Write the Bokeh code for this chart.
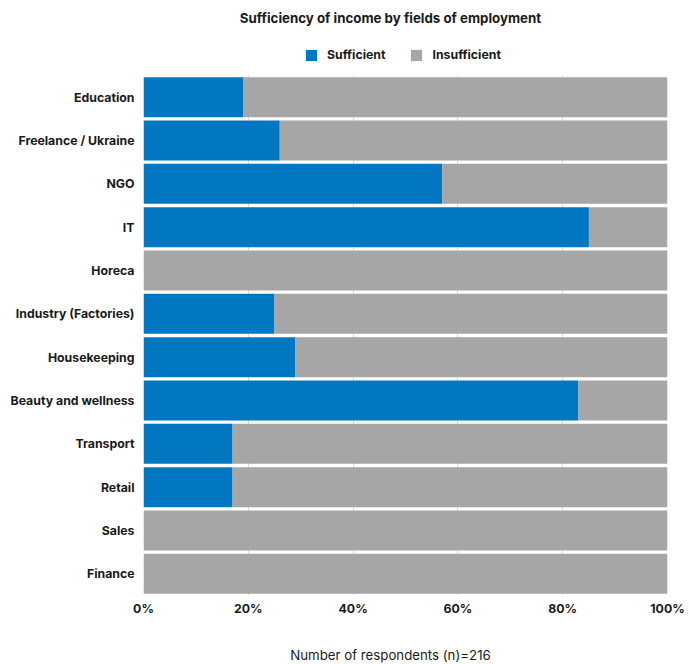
from bokeh.plotting import figure
from bokeh.layouts import column
from bokeh.models import (Range1d, FactorRange, FixedTicker, PrintfTickFormatter,
                          Legend, LegendItem, Label, ColumnDataSource)
from bokeh.embed import file_html
from bokeh.resources import INLINE

categories = ["Education", "Freelance / Ukraine", "NGO", "IT", "Horeca",
              "Industry (Factories)", "Housekeeping", "Beauty and wellness",
              "Transport", "Retail", "Sales", "Finance"]
sufficient = [19, 26, 57, 85, 0, 25, 29, 83, 17, 17, 0, 0]
insufficient = [81, 74, 43, 15, 100, 75, 71, 17, 83, 83, 100, 100]
x_ticks = [0, 20, 40, 60, 80, 100]
series = ["Sufficient", "Insufficient"]
title_text = "Sufficiency of income by fields of employment"
footer_text = "Number of respondents (n)=216"

BLUE = "#0077C0"
GRAY = "#A6A6A6"
FONT = "Inter"
TXT = "#1a1a1a"

source = ColumnDataSource(dict(cat=categories, Sufficient=sufficient,
                               Insufficient=insufficient))

HEAD_H = 75
FOOT_H = 39
BORDERS = dict(min_border_left=143, min_border_right=22)


def blank(fig):
    fig.axis.visible = False
    fig.grid.visible = False
    fig.outline_line_color = None
    fig.background_fill_color = "white"
    fig.border_fill_color = "white"


# ---------- header (title + legend); its frame is aligned with the chart's ----------
head = figure(width=689, height=HEAD_H, output_backend="svg", toolbar_location=None,
              x_range=Range1d(0, 100),
              y_range=FactorRange(factors=list(reversed(categories))),
              min_border_top=0, min_border_bottom=0, **BORDERS)
blank(head)

proxy = head.hbar_stack(series, y="cat", height=0.924, color=[BLUE, GRAY],
                        source=source, line_color=None)
for r in proxy:
    r.visible = False

head.add_layout(Label(x=247, y=HEAD_H - 17, x_units="screen", y_units="screen",
                      text=title_text, text_align="center", text_baseline="middle",
                      text_font=FONT, text_font_style="bold",
                      text_font_size="13.3px", text_color=TXT))

legend = Legend(items=[LegendItem(label=n, renderers=[r]) for n, r in zip(series, proxy)],
                orientation="horizontal", location=(161, 13),
                glyph_width=14, glyph_height=14, label_height=14,
                label_text_font=FONT, label_text_font_style="bold",
                label_text_font_size="12.3px", label_text_color=TXT,
                spacing=24, label_standoff=9, inactive_fill_alpha=0,
                border_line_color=None, background_fill_alpha=0,
                padding=0, margin=0)
head.add_layout(legend, "center")

# ---------- main chart ----------
p = figure(width=689, height=664 - HEAD_H - FOOT_H, output_backend="svg",
           toolbar_location=None,
           y_range=FactorRange(factors=list(reversed(categories))),
           x_range=Range1d(0, 100),
           min_border_top=0, min_border_bottom=30, **BORDERS)
p.outline_line_color = None
p.background_fill_color = "white"
p.border_fill_color = "white"

p.hbar_stack(series, y="cat", height=0.924, color=[BLUE, GRAY],
             source=source, line_color=None)

p.xaxis.ticker = FixedTicker(ticks=x_ticks)
p.xaxis.formatter = PrintfTickFormatter(format="%d%%")
for ax in (p.xaxis, p.yaxis):
    ax.axis_line_color = None
    ax.major_tick_line_color = None
    ax.minor_tick_line_color = None
    ax.major_tick_out = 0
    ax.major_tick_in = 0
    ax.major_label_text_font = FONT
    ax.major_label_text_font_style = "bold"
    ax.major_label_text_font_size = "12.3px"
    ax.major_label_text_color = TXT
p.xaxis.major_label_standoff = 5
p.yaxis.major_label_standoff = 9

p.xgrid.ticker = FixedTicker(ticks=x_ticks)
p.xgrid.grid_line_color = "#DADADA"
p.ygrid.grid_line_color = None

# ---------- footer ----------
foot = figure(width=689, height=FOOT_H, output_backend="svg", toolbar_location=None,
              x_range=Range1d(0, 100),
              y_range=FactorRange(factors=list(reversed(categories))),
              min_border_top=0, min_border_bottom=0, **BORDERS)
blank(foot)
foot.add_layout(Label(x=247, y=FOOT_H - 29, x_units="screen", y_units="screen",
                      text=footer_text, text_align="center", text_baseline="middle",
                      text_font=FONT, text_font_size="13.25px", text_color=TXT))

layout = column(head, p, foot, spacing=0)
open("out.html", "w").write(file_html(layout, INLINE))
